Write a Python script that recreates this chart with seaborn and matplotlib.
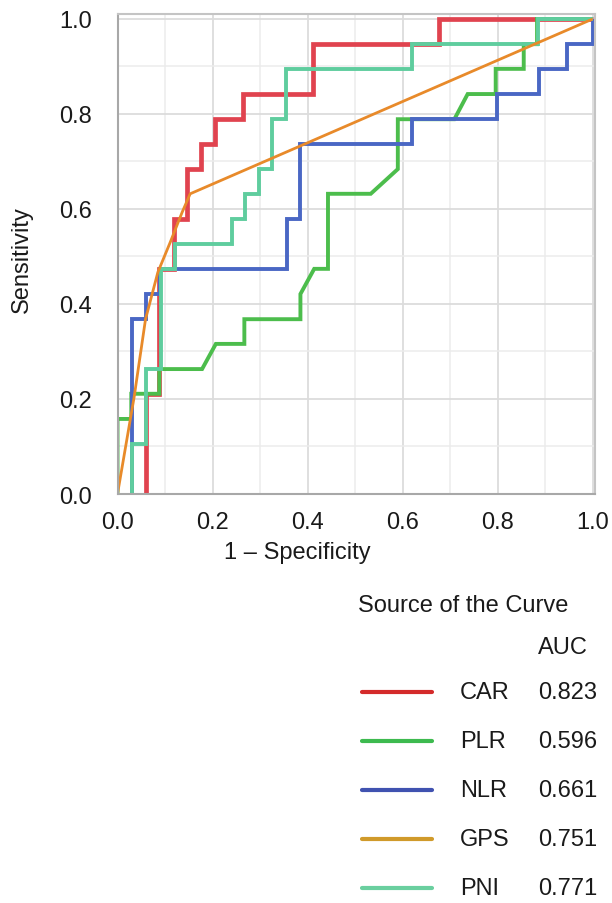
import numpy as np
import pandas as pd
import matplotlib
matplotlib.use("Agg")
import matplotlib.pyplot as plt
from matplotlib.lines import Line2D
from matplotlib.ticker import MultipleLocator
import seaborn as sns

# ---------------- data ----------------
curve_names = ["CAR", "PLR", "NLR", "GPS", "PNI"]
auc_values = ["0.823", "0.596", "0.661", "0.751", "0.771"]

car_fpr = [0.059, 0.059, 0.088, 0.088, 0.118, 0.118, 0.147, 0.147, 0.176, 0.176,
           0.206, 0.206, 0.265, 0.265, 0.412, 0.412, 0.676, 0.676, 1.0]
car_tpr = [0.0, 0.211, 0.211, 0.474, 0.474, 0.579, 0.579, 0.684, 0.684, 0.737,
           0.737, 0.789, 0.789, 0.842, 0.842, 0.947, 0.947, 1.0, 1.0]

plr_fpr = [0.0, 0.0, 0.029, 0.029, 0.088, 0.088, 0.178, 0.207, 0.267, 0.267,
           0.385, 0.385, 0.414, 0.443, 0.443, 0.533, 0.59, 0.59, 0.709, 0.737,
           0.796, 0.796, 0.855, 0.855, 0.883, 0.883, 1.0]
plr_tpr = [0.0, 0.158, 0.158, 0.211, 0.211, 0.263, 0.263, 0.316, 0.316, 0.368,
           0.368, 0.421, 0.474, 0.474, 0.632, 0.632, 0.684, 0.789, 0.789, 0.842,
           0.842, 0.895, 0.895, 0.947, 0.947, 1.0, 1.0]

nlr_fpr = [0.031, 0.031, 0.061, 0.061, 0.09, 0.09, 0.356, 0.356, 0.385, 0.385,
           0.62, 0.62, 0.798, 0.798, 0.887, 0.887, 0.947, 0.947, 1.0, 1.0]
nlr_tpr = [0.0, 0.368, 0.368, 0.421, 0.421, 0.474, 0.474, 0.579, 0.579, 0.737,
           0.737, 0.789, 0.789, 0.842, 0.842, 0.895, 0.895, 0.947, 0.947, 1.0]

gps_fpr = [0.0, 0.035, 0.059, 0.085, 0.111, 0.136, 0.153, 1.0]
gps_tpr = [0.0, 0.204, 0.368, 0.467, 0.530, 0.593, 0.632, 1.0]

pni_fpr = [0.031, 0.031, 0.061, 0.061, 0.092, 0.092, 0.12, 0.12, 0.24, 0.24,
           0.268, 0.268, 0.298, 0.298, 0.325, 0.325, 0.355, 0.355, 0.62, 0.62,
           0.885, 0.885, 1.0]
pni_tpr = [0.0, 0.105, 0.105, 0.263, 0.263, 0.474, 0.474, 0.526, 0.526, 0.579,
           0.579, 0.632, 0.632, 0.684, 0.684, 0.789, 0.789, 0.895, 0.895, 0.947,
           0.947, 1.0, 1.0]

x_ticks = [0.0, 0.2, 0.4, 0.6, 0.8, 1.0]
x_tick_labels = ["0.0", "0.2", "0.4", "0.6", "0.8", "1.0"]
y_ticks = [0.0, 0.2, 0.4, 0.6, 0.8, 1.0]
y_tick_labels = ["0.0", "0.2", "0.4", "0.6", "0.8", "1.0"]

# ---------------- styling ----------------
sns.set_theme(style="white")
plt.rcParams["font.family"] = ["Liberation Sans", "DejaVu Sans"]

line_colors = {"CAR": "#e0434f", "PLR": "#4cbd4c", "NLR": "#4a67c4",
               "GPS": "#e88a2a", "PNI": "#5fcd9e"}
legend_colors = {"CAR": "#d42a2a", "PLR": "#3dba4f", "NLR": "#4052b0",
                 "GPS": "#d09a2a", "PNI": "#6acf9f"}
line_widths = {"CAR": 3.4, "PLR": 2.8, "NLR": 2.8, "GPS": 2.0, "PNI": 2.8}

frames = []
for name, fx, ty in [("CAR", car_fpr, car_tpr), ("PLR", plr_fpr, plr_tpr),
                     ("NLR", nlr_fpr, nlr_tpr), ("PNI", pni_fpr, pni_tpr),
                     ("GPS", gps_fpr, gps_tpr)]:
    frames.append(pd.DataFrame({"fpr": fx, "tpr": ty, "curve": name,
                                "order": np.arange(len(fx))}))
df = pd.concat(frames, ignore_index=True)

fig = plt.figure(figsize=(6.12, 9.04), dpi=100)
W, H = 612.0, 904.0
ax = fig.add_axes([117.5 / W, 1 - 495 / H, (595 - 117.5) / W, (495 - 15) / H])

# grid
ax.set_xlim(0, 1.005)
ax.set_ylim(0, 1.0105)
ax.xaxis.set_major_locator(MultipleLocator(0.2))
ax.xaxis.set_minor_locator(MultipleLocator(0.1))
ax.yaxis.set_major_locator(MultipleLocator(0.2))
ax.yaxis.set_minor_locator(MultipleLocator(0.1))
ax.grid(which="major", color="#dcdcdc", linewidth=1.3)
ax.grid(which="minor", color="#ececec", linewidth=1.1)
ax.set_axisbelow(True)

for name in ["CAR", "PLR", "NLR", "PNI", "GPS"]:
    sub = df[df["curve"] == name]
    sns.lineplot(data=sub, x="fpr", y="tpr", sort=False, estimator=None,
                 color=line_colors[name], linewidth=line_widths[name], ax=ax,
                 solid_joinstyle="miter", solid_capstyle="butt", legend=False)

ax.set_xticks(x_ticks)
ax.set_xticklabels(x_tick_labels)
ax.set_yticks(y_ticks)
ax.set_yticklabels(y_tick_labels)

for side in ["left", "bottom", "top", "right"]:
    ax.spines[side].set_visible(True)
    ax.spines[side].set_color("#a8a8a8")
    ax.spines[side].set_linewidth(1.5)
ax.spines["top"].set_color("#c4c4c4")
ax.spines["right"].set_color("#c4c4c4")

ax.tick_params(axis="both", which="major", direction="out", length=8.5,
               width=1.2, color="#a8a8a8", labelsize=17, labelcolor="#1a1a1a")
ax.tick_params(axis="both", which="minor", direction="out", length=4.5,
               width=1.2, color="#a8a8a8")
ax.tick_params(axis="x", which="major", pad=4)
ax.tick_params(axis="y", which="major", pad=10)

ax.set_xlabel("1 \u2013 Specificity", fontsize=17, color="#1a1a1a")
ax.xaxis.label.set_va("center")
ax.xaxis.set_label_coords(0.377, (495 - 553) / 480.0)
ax.set_ylabel("Sensitivity", fontsize=17, color="#1a1a1a")
ax.yaxis.label.set_va("center")
ax.yaxis.set_label_coords((22 - 117.5) / 477.5, (495 - 260) / 480.0)

# ---------------- legend (drawn as a table under the plot) ----------------
def fx_(px):
    return px / W

def fy_(py):
    return 1 - py / H

fig.text(fx_(358), fy_(606), "Source of the Curve", fontsize=17,
         ha="left", va="center", color="#1a1a1a")
fig.text(fx_(538), fy_(648), "AUC", fontsize=17, ha="left", va="center",
         color="#1a1a1a")
row_y = [693, 742, 791, 840, 889]
for name, auc, yy in zip(curve_names, auc_values, row_y):
    fig.add_artist(Line2D([fx_(362), fx_(432)], [fy_(yy), fy_(yy)],
                          color=legend_colors[name], linewidth=3.0,
                          transform=fig.transFigure))
    fig.text(fx_(460), fy_(yy), name, fontsize=17, ha="left", va="center",
             color="#1a1a1a")
    fig.text(fx_(538), fy_(yy), auc, fontsize=17, ha="left", va="center",
             color="#1a1a1a")

fig.savefig("out.png", dpi=100)
